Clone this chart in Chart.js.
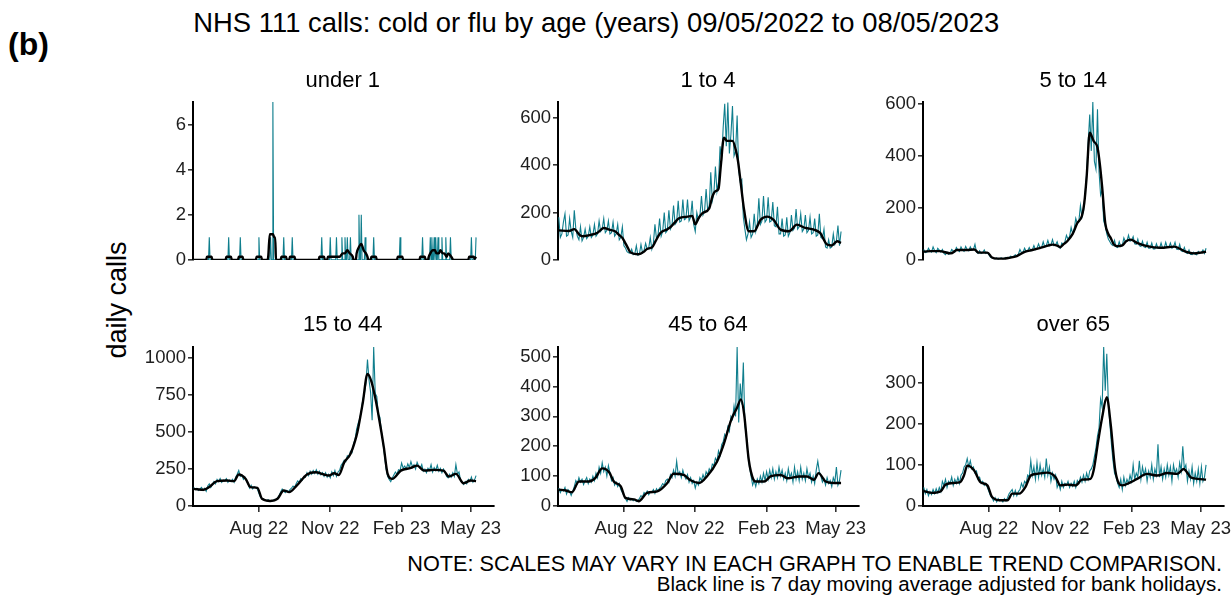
<!DOCTYPE html>
<html><head><meta charset="utf-8">
<script src="https://cdn.jsdelivr.net/npm/chart.js@4.4.1/dist/chart.umd.min.js"></script>
<style>
html,body{margin:0;padding:0;background:#fff;}
body{width:1232px;height:596px;position:relative;overflow:hidden;font-family:"Liberation Sans",Arial,sans-serif;color:#000;}
.t{position:absolute;white-space:nowrap;line-height:1;}
canvas{position:absolute;}
</style></head><body>
<div class="t" style="left:193.3px;top:9.2px;font-size:27.4px;">NHS 111 calls: cold or flu by age (years) 09/05/2022 to 08/05/2023</div>
<div class="t" style="left:8px;top:27.9px;font-size:32px;font-weight:bold;">(b)</div>
<div class="t" style="left:117px;top:300px;font-size:27px;transform:translate(-50%,-50%) rotate(-90deg);">daily calls</div>
<div class="t" style="right:10px;top:553px;font-size:21.7px;">NOTE: SCALES MAY VARY IN EACH GRAPH TO ENABLE TREND COMPARISON.</div>
<div class="t" style="right:10px;top:573.6px;font-size:20.5px;">Black line is 7 day moving average adjusted for bank holidays.</div>
<script>
// ---- data (day index 0 = 09/05/2022) ----
const xTickDays = [84, 176, 268, 357];
const xTickLabels = ['Aug 22', 'Nov 22', 'Feb 23', 'May 23'];

// under 1: daily calls are zero except on these days
const u1SpikeDays = [20,45,60,84,99,102,116,127,165,176,184,191,195,198,202,213,216,221,232,266,295,305,307,310,312,315,320,325,331,358,364];
const u1SpikeVals = [1,1,1,1,1,7,1,1,1,1,1,1,1,1,1,2,2,1,1,1,1,1,1,1,1,1,1,1,1,1,1];
const u1MaDays = [0,16,17,23,24,41,42,48,49,57,58,63,64,80,81,87,88,95,96,98,102,104,105,106,112,113,119,120,123,124,130,131,161,162,168,169,172,173,179,181,187,188,192,195,198,201,205,206,209,210,213,216,219,222,224,225,228,229,235,236,262,263,269,270,291,292,298,299,302,303,305,308,311,313,316,318,321,323,326,328,332,335,354,355,361,362,364];
const u1Ma = [0,0,0.14,0.14,0,0,0.14,0.14,0,0,0.14,0.14,0,0,0.14,0.14,0,0,0.14,1.14,1.14,1.0,1.0,0,0,0.14,0.14,0,0,0.14,0.14,0,0,0.14,0.14,0,0,0.14,0.14,0.14,0.14,0.14,0.29,0.29,0.43,0.29,0.14,0,0,0.29,0.57,0.71,0.43,0.29,0.14,0,0,0.14,0.14,0,0,0.14,0.14,0,0,0.14,0.14,0,0,0.14,0.29,0.43,0.43,0.29,0.29,0.43,0.29,0.29,0.14,0.29,0.14,0,0,0.14,0.14,0.05,0.14];

// other ages: daily calls every second day (day 0,2,...,364)
const teal1to4 = [180,95,110,160,195,100,105,175,120,95, 210,130,100,85,140,80,95,130,90,100, 140,95,105,150,100,110,165,120,130,175, 115,125,165,110,115,160,100,110,150,85, 95,140,60,50,35,30,28,45,22,25, 60,20,25,65,30,40,70,45,50,95, 45,70,150,90,105,175,100,120,200,115, 125,210,130,145,230,150,160,250,160,165, 255,170,175,255,165,180,250,150,120,200, 170,185,270,190,205,300,210,225,370,250, 280,395,290,330,480,420,560,660,480,665, 450,530,650,440,460,610,380,330,340,180, 130,85,110,160,95,110,195,120,150,260, 150,165,270,160,170,265,160,165,245,145, 140,225,110,110,175,100,105,180,100,115, 190,125,135,215,130,140,195,120,130,190, 115,125,180,110,115,175,100,105,195,95, 90,130,55,50,85,50,55,110,65,80, 145,60,120];
const ma1to4Days = [0,13,20,27,30,40,50,58,65,73,78,82,86,90,92,103,110,114,120,125,131,140,145,150,155,166,172,176,180,185,194,198,202,206,209,213,217,224,228,231,234,239,245,252,260,269,277,286,297,307,318,329,337,346,352,359,364];
const ma1to4 = [125,122,130,105,100,105,115,135,128,120,105,93,70,45,33,24,35,47,52,80,114,130,142,160,176,183,186,150,175,197,218,267,290,301,400,517,503,503,468,420,343,211,121,121,169,183,169,128,121,149,135,128,114,65,61,79,72];

const teal5to14 = [40,28,30,45,35,30,50,35,28,45, 38,30,40,25,20,30,22,25,40,35, 30,48,38,32,50,38,33,52,40,35, 50,38,40,60,30,25,35,25,28,38, 25,28,20,10,8,6,4,8,3,5, 8,4,6,10,7,9,14,11,14,20, 15,22,40,28,30,45,32,35,48,35, 38,55,40,45,62,45,48,70,50,55, 75,55,58,78,55,58,70,50,45,65, 60,70,95,80,90,125,100,120,160,140, 150,210,165,190,255,330,450,560,420,608, 380,350,580,340,250,270,150,130,100,80, 70,60,55,75,50,48,70,52,55,85, 70,72,95,72,75,90,62,60,80,55, 52,72,50,48,68,45,45,65,42,42, 62,45,44,65,45,45,68,48,48,65, 45,50,68,42,40,60,35,32,48,28, 25,38,22,20,30,22,20,32,25,28, 38,25,45];
const ma5to14Days = [0,10,20,35,43,55,65,71,82,88,95,103,110,120,131,140,151,160,166,172,176,180,185,192,198,204,207,210,214,219,224,227,230,234,238,241,245,249,256,261,267,275,288,305,323,336,348,357,364];
const ma5to14 = [32,34,34,25,38,38,40,28,28,9,5,5,8,15,32,38,47,55,59,55,49,60,72,100,142,170,220,319,490,458,433,370,281,142,100,85,60,53,56,72,78,66,53,47,51,34,25,28,32];

const teal15to44 = [125,110,120,105,115,125,105,120,100,135, 150,125,145,165,150,180,165,185,160,175, 170,185,160,175,165,180,160,195,215,240, 200,210,180,195,170,150,120,140,115,130, 125,115,85,60,50,45,40,35,42,30, 38,35,45,42,55,70,95,115,100,90, 105,95,110,120,135,125,150,170,160,185, 175,200,195,225,205,235,215,240,220,245, 215,235,210,225,200,225,195,215,190,230, 205,240,200,230,240,275,290,310,300,340, 330,370,360,420,450,520,560,590,640,720, 760,830,990,850,770,580,1074,760,740,620, 600,500,430,340,250,200,180,165,190,210, 230,215,245,240,290,255,270,250,285,260, 300,265,280,250,295,270,255,280,235,250, 225,255,240,280,230,260,240,275,235,255, 225,250,230,200,190,215,195,225,200,280, 215,230,175,160,145,165,150,180,165,195, 160,175,205];
const ma15to44Days = [0,13,20,30,43,52,58,67,73,82,88,99,108,116,123,133,146,157,168,174,181,187,194,202,208,211,218,224,229,234,239,245,250,256,267,280,288,297,310,322,329,338,348,357,364];
const ma15to44 = [116,110,128,168,172,168,213,183,128,123,49,34,49,105,94,139,213,228,213,206,221,210,295,351,440,500,700,893,843,731,590,400,217,183,239,257,273,239,244,239,199,217,154,172,168];

const teal45to64 = [60,45,55,50,62,40,55,48,35,50, 65,85,75,95,80,90,72,85,95,75, 90,80,100,85,110,95,130,110,145,115, 130,100,135,110,85,95,70,80,65,75, 55,45,35,25,15,28,20,25,18,22, 15,20,25,35,30,45,40,50,38,48, 45,55,42,58,50,60,65,75,70,85, 90,80,105,95,120,100,150,105,115,95, 120,100,90,105,80,95,75,85,60,80, 70,95,85,105,90,115,105,125,115,140, 135,160,150,185,170,205,215,240,230,265, 250,300,290,335,300,532,280,410,340,480, 270,230,170,130,100,70,85,65,90,75, 100,80,110,85,115,90,120,95,125,90, 115,95,130,100,120,90,110,85,125,95, 110,80,130,90,115,85,130,90,110,85, 125,95,110,80,100,75,120,150,115,100, 80,90,70,95,75,85,65,95,80,130, 70,85,120];
const ma45to64Days = [0,9,17,26,39,47,56,65,71,80,86,97,103,114,127,140,148,161,170,181,191,204,213,222,230,235,239,245,251,254,265,273,286,295,310,320,329,335,344,355,364];
const ma45to64 = [55,52,46,82,82,93,126,113,82,66,27,22,16,44,49,77,108,104,86,77,99,148,209,286,330,357,308,154,88,82,82,99,104,93,99,99,88,110,82,77,77];

const tealOver65 = [45,30,40,25,35,28,40,30,42,32, 45,35,60,50,65,45,60,55,70,50, 65,55,70,55,75,80,95,100,115,95, 110,90,95,80,85,65,70,55,60,50, 55,45,35,25,20,12,20,10,18,12, 15,10,18,12,20,30,35,40,25,38, 25,35,40,55,45,60,55,75,70,110, 75,95,65,105,70,100,75,90,70,115, 75,95,60,80,65,75,45,55,40,60, 45,55,50,60,45,55,48,60,45,62, 55,70,58,75,60,80,65,85,90,100, 120,140,170,190,260,240,386,280,370,250, 200,150,110,80,70,55,45,65,40,70, 50,65,55,75,60,100,65,80,70,110, 65,95,75,90,60,85,70,100,65,90, 75,150,70,95,65,90,70,100,75,95, 60,100,80,90,70,105,85,145,90,100, 60,85,65,95,55,80,60,90,55,95, 60,70,100];
const maOver65Days = [0,11,22,28,39,47,52,56,65,73,82,88,99,108,114,123,131,138,146,159,170,176,185,196,204,215,219,225,230,236,241,247,256,267,275,288,301,314,327,335,344,353,364];
const maOver65 = [36,32,36,52,56,58,75,98,86,58,50,22,14,14,30,30,46,74,78,81,70,50,52,50,64,66,86,159,215,264,199,86,50,58,66,78,74,80,78,90,70,66,64];

// ---- build ----
const TEAL = '#0f7e8d';
Chart.defaults.font.family = '"Liberation Sans", Arial, sans-serif';

function pairPts(days, vals) { return days.map((d, i) => ({ x: d, y: vals[i] })); }
function everyOtherDay(vals) { return vals.map((v, i) => ({ x: i * 2, y: v })); }
function spikePts(days, vals) {
  const out = [{ x: 0, y: 0 }];
  days.forEach((d, i) => {
    const last = out[out.length - 1].x;
    if (d - 1 > last) out.push({ x: d - 1, y: 0 });
    out.push({ x: d, y: vals[i] });
    if (d + 1 <= 364) out.push({ x: d + 1, y: 0 });
  });
  if (out[out.length - 1].x < 364) out.push({ x: 364, y: 0 });
  return out;
}

const panels = [
  { title: 'under 1', col: 0, row: 0, teal: spikePts(u1SpikeDays, u1SpikeVals), ma: pairPts(u1MaDays, u1Ma), yMax: 7, yTicks: [0, 2, 4, 6] },
  { title: '1 to 4', col: 1, row: 0, teal: everyOtherDay(teal1to4), ma: pairPts(ma1to4Days, ma1to4), yMax: 667, yTicks: [0, 200, 400, 600] },
  { title: '5 to 14', col: 2, row: 0, teal: everyOtherDay(teal5to14), ma: pairPts(ma5to14Days, ma5to14), yMax: 608, yTicks: [0, 200, 400, 600] },
  { title: '15 to 44', col: 0, row: 1, teal: everyOtherDay(teal15to44), ma: pairPts(ma15to44Days, ma15to44), yMax: 1074, yTicks: [0, 250, 500, 750, 1000] },
  { title: '45 to 64', col: 1, row: 1, teal: everyOtherDay(teal45to64), ma: pairPts(ma45to64Days, ma45to64), yMax: 532, yTicks: [0, 100, 200, 300, 400, 500] },
  { title: 'over 65', col: 2, row: 1, teal: everyOtherDay(tealOver65), ma: pairPts(maOver65Days, maOver65), yMax: 386, yTicks: [0, 100, 200, 300] }
];

const plotLefts = [192.5, 557.8, 923];
const plotW = 300.5;
const rowTops = [100.5, 345.7];
const stripTops = [68.7, 313.4];
const YW = 60, PADT = 12, PADR = 30.5;

panels.forEach(p => {
  const bottom = p.row === 1;
  const cv = document.createElement('canvas');
  const w = 391, h = bottom ? 212 : 184;
  cv.width = w; cv.height = h;
  cv.style.width = w + 'px'; cv.style.height = h + 'px';
  cv.style.left = (plotLefts[p.col] - YW) + 'px';
  cv.style.top = (rowTops[p.row] - PADT) + 'px';
  document.body.appendChild(cv);

  const st = document.createElement('div');
  st.className = 't';
  st.textContent = p.title;
  st.style.cssText = `left:${plotLefts[p.col]}px;width:${plotW}px;top:${stripTops[p.row]}px;font-size:22px;text-align:center;`;
  document.body.appendChild(st);

  new Chart(cv, {
    type: 'line',
    data: {
      datasets: [
        { data: p.ma, borderColor: '#000', borderWidth: 2.4, pointRadius: 0, cubicInterpolationMode: 'monotone', order: 0 },
        { data: p.teal, borderColor: TEAL, borderWidth: 1.1, pointRadius: 0, tension: 0, order: 1 }
      ]
    },
    options: {
      responsive: false, animation: false, devicePixelRatio: 1,
      layout: { padding: { left: 0, top: PADT, right: PADR, bottom: bottom ? 0 : 12 } },
      plugins: { legend: { display: false }, tooltip: { enabled: false } },
      scales: {
        x: {
          type: 'linear', min: -1, max: 386.5, display: bottom,
          afterBuildTicks: s => { s.ticks = xTickDays.map(v => ({ value: v })); },
          afterFit: s => { s.height = bottom ? 40 : 0; },
          ticks: { autoSkip: false, maxRotation: 0, padding: 6, color: '#1e1e1e', font: { size: 18.5 },
            callback: v => xTickLabels[xTickDays.indexOf(v)] },
          grid: { display: true, drawOnChartArea: false, drawTicks: true, tickLength: 6, color: '#333', lineWidth: 1.6 },
          border: { display: true, color: '#000', width: 2 }
        },
        y: {
          type: 'linear', min: 0, max: p.yMax,
          afterBuildTicks: s => { s.ticks = p.yTicks.map(v => ({ value: v })); },
          afterFit: s => { s.width = YW; },
          ticks: { padding: 2, color: '#1e1e1e', font: { size: 18.5 }, callback: v => String(v) },
          grid: { display: true, drawOnChartArea: false, drawTicks: true, tickLength: 5, color: '#333', lineWidth: 1.6 },
          border: { display: true, color: '#000', width: 2 }
        }
      }
    }
  });
});
</script>
</body></html>
